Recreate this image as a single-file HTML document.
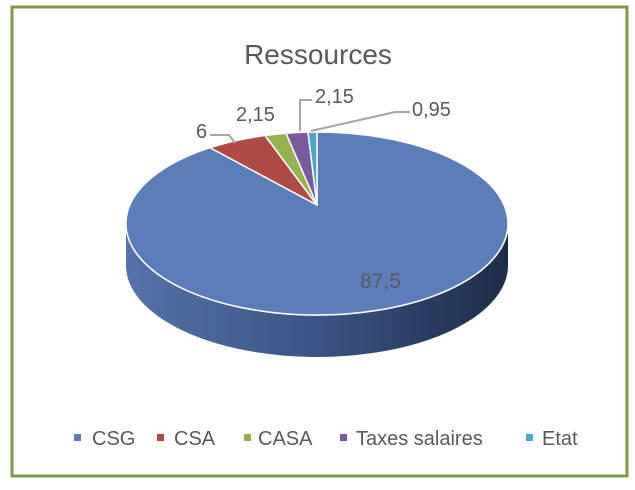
<!DOCTYPE html>
<html><head><meta charset="utf-8"><style>
html,body{margin:0;padding:0;background:#fff;}
svg{display:block;}
text{font-family:"Liberation Sans",sans-serif;fill:#595959;}
</style></head><body>
<svg width="635" height="490" viewBox="0 0 635 490">
<defs>
<linearGradient id="side" x1="0" x2="1" y1="0" y2="0">
<stop offset="0" stop-color="#5573a8"/>
<stop offset="0.5" stop-color="#3a5584"/>
<stop offset="1" stop-color="#1e2c48"/>
</linearGradient>
</defs>
<rect x="12" y="7" width="615" height="469" fill="#fff" stroke="#7f9a48" stroke-width="3"/>
<text x="318" y="64" font-size="28" text-anchor="middle">Ressources</text>
<!-- side -->
<path d="M126,223.5 A191,91.5 0 0,0 508,223.5 L508,265.5 A191,91.5 0 0,1 126,265.5 Z" fill="url(#side)"/>
<path d="M126,223.5 A191,91.5 0 0,0 508,223.5" fill="none" stroke="#fff" stroke-width="1.5"/>
<!-- slices -->
<path d="M317,205 L317,132 A191,91.5 0 1,1 210,147.7 Z" fill="#5b7dba" stroke="#fff" stroke-width="1.5"/>
<path d="M317,205 L210,147.7 A191,91.5 0 0,1 265,135.5 Z" fill="#b04a45" stroke="#fff" stroke-width="1.5"/>
<path d="M317,205 L265,135.5 A191,91.5 0 0,1 286,133.2 Z" fill="#95b24e" stroke="#fff" stroke-width="1.5"/>
<path d="M317,205 L286,133.2 A191,91.5 0 0,1 308,132.1 Z" fill="#7a5a9e" stroke="#fff" stroke-width="1.5"/>
<path d="M317,205 L308,132.1 A191,91.5 0 0,1 317,132 Z" fill="#4ea5c8" stroke="#fff" stroke-width="1.5"/>
<!-- leader lines -->
<g stroke="#a6a6a6" stroke-width="2" fill="none">
<polyline points="210,135 229,135 235,143"/>
<polyline points="300,131 300,100 312,100"/>
<polyline points="311,131 395,112 410,112"/>
</g>
<g font-size="20">
<text x="196" y="138">6</text>
<text x="236" y="121">2,15</text>
<text x="315" y="103">2,15</text>
<text x="412" y="116">0,95</text>
<text x="360" y="288" font-size="21">87,5</text>
</g>
<g font-size="20">
<rect x="74" y="434" width="7" height="7" fill="#5b7dba"/><text x="92" y="445">CSG</text>
<rect x="157" y="434" width="7" height="7" fill="#b04a45"/><text x="174" y="445">CSA</text>
<rect x="244" y="434" width="7" height="7" fill="#95b24e"/><text x="258" y="445">CASA</text>
<rect x="340" y="434" width="7" height="7" fill="#7a5a9e"/><text x="356" y="445">Taxes salaires</text>
<rect x="526" y="434" width="7" height="7" fill="#4ea5c8"/><text x="542" y="445">Etat</text>
</g>
</svg>
</body></html>
